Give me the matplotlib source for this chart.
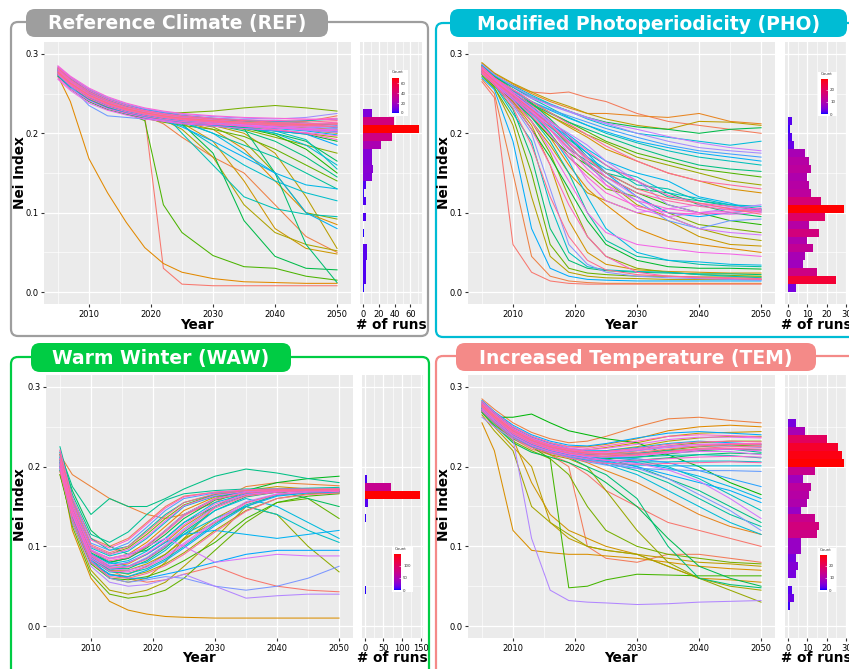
import numpy as np
import matplotlib
matplotlib.use("Agg")
import matplotlib.pyplot as plt
from matplotlib.patches import FancyBboxPatch
from matplotlib.colors import ListedColormap

# years at which each run is sampled
YEARS = [2005, 2007, 2010, 2013, 2016, 2019, 2022, 2025, 2030, 2035, 2040, 2045, 2050]

ref_runs = [
    [.276, .262, .247, .236, .229, .222, .030, .010, .008, .008, .008, .008, .008],
    [.283, .270, .255, .244, .236, .230, .226, .223, .219, .216, .214, .215, .222],
    [.278, .263, .246, .235, .228, .222, .212, .195, .170, .150, .110, .070, .050],
    [.280, .267, .252, .241, .233, .227, .223, .220, .216, .213, .211, .210, .212],
    [.272, .240, .168, .125, .088, .056, .036, .025, .017, .013, .012, .011, .011],
    [.275, .260, .244, .233, .226, .221, .218, .214, .205, .180, .140, .100, .085],
    [.278, .264, .249, .238, .231, .226, .222, .219, .215, .212, .209, .207, .205],
    [.277, .262, .246, .235, .228, .222, .218, .213, .190, .140, .080, .055, .048],
    [.276, .262, .246, .236, .229, .224, .220, .217, .213, .210, .207, .204, .200],
    [.280, .265, .249, .238, .230, .224, .220, .216, .210, .200, .175, .120, .055],
    [.276, .261, .245, .234, .227, .221, .217, .205, .170, .110, .075, .060, .052],
    [.274, .259, .243, .233, .226, .221, .217, .214, .210, .207, .204, .200, .195],
    [.279, .264, .248, .236, .229, .223, .219, .215, .208, .190, .150, .100, .092],
    [.277, .263, .247, .236, .229, .224, .220, .217, .212, .205, .195, .185, .175],
    [.280, .266, .251, .240, .232, .227, .225, .226, .228, .232, .235, .232, .228],
    [.274, .259, .243, .232, .225, .219, .214, .210, .205, .196, .180, .160, .140],
    [.278, .262, .245, .233, .225, .216, .110, .075, .046, .032, .030, .020, .015],
    [.279, .265, .249, .238, .231, .225, .221, .218, .213, .207, .198, .180, .150],
    [.272, .256, .240, .230, .224, .219, .215, .212, .209, .206, .203, .199, .190],
    [.277, .263, .247, .236, .229, .223, .219, .212, .175, .090, .045, .030, .028],
    [.276, .262, .246, .235, .228, .223, .219, .216, .211, .207, .200, .190, .165],
    [.281, .266, .250, .238, .231, .225, .221, .217, .212, .206, .150, .060, .012],
    [.277, .263, .247, .236, .229, .224, .220, .216, .211, .203, .190, .170, .145],
    [.279, .265, .250, .240, .233, .228, .224, .221, .218, .215, .213, .211, .208],
    [.276, .261, .245, .234, .227, .222, .218, .214, .200, .185, .170, .150, .130],
    [.281, .268, .253, .242, .234, .229, .225, .222, .218, .216, .215, .216, .218],
    [.277, .262, .246, .235, .228, .222, .226, .200, .160, .120, .105, .098, .095],
    [.279, .264, .248, .237, .230, .225, .221, .218, .214, .209, .203, .192, .155],
    [.279, .264, .248, .237, .230, .224, .220, .210, .185, .160, .140, .125, .115],
    [.278, .264, .248, .237, .230, .225, .221, .217, .213, .208, .200, .185, .160],
    [.277, .263, .247, .237, .230, .225, .221, .218, .214, .211, .208, .205, .202],
    [.278, .263, .247, .236, .229, .223, .219, .215, .200, .175, .150, .135, .130],
    [.275, .261, .245, .235, .228, .223, .219, .216, .212, .209, .206, .203, .198],
    [.275, .262, .246, .235, .228, .221, .216, .208, .190, .170, .150, .100, .080],
    [.282, .269, .254, .243, .235, .230, .226, .222, .219, .217, .215, .213, .210],
    [.273, .258, .242, .232, .226, .220, .216, .213, .210, .206, .203, .199, .185],
    [.280, .266, .251, .240, .232, .227, .223, .220, .217, .214, .212, .210, .207],
    [.276, .260, .235, .222, .220, .218, .217, .215, .212, .209, .207, .204, .203],
    [.278, .264, .248, .238, .231, .226, .222, .219, .216, .213, .210, .208, .206],
    [.284, .271, .256, .245, .237, .231, .227, .224, .221, .219, .218, .220, .225],
    [.277, .262, .247, .236, .229, .224, .220, .217, .214, .211, .208, .206, .204],
    [.275, .261, .246, .236, .229, .224, .220, .217, .213, .210, .207, .204, .201],
    [.279, .265, .249, .239, .232, .227, .223, .220, .216, .213, .210, .208, .209],
    [.281, .267, .252, .241, .233, .228, .224, .221, .217, .214, .212, .211, .213],
    [.276, .262, .247, .237, .230, .225, .221, .218, .215, .211, .208, .206, .204],
    [.268, .254, .238, .229, .223, .218, .215, .212, .209, .206, .204, .201, .197],
    [.270, .256, .241, .231, .225, .220, .216, .213, .211, .209, .207, .205, .203],
    [.285, .272, .257, .246, .238, .232, .228, .225, .222, .220, .219, .218, .217],
    [.283, .270, .254, .243, .235, .229, .225, .222, .219, .217, .216, .217, .219],
    [.274, .260, .244, .234, .227, .222, .218, .215, .212, .209, .205, .200, .192],
    [.280, .266, .250, .239, .231, .226, .222, .219, .216, .214, .213, .212, .214],
    [.278, .264, .248, .237, .230, .225, .221, .218, .215, .212, .210, .209, .211],
    [.276, .262, .246, .236, .229, .224, .220, .217, .214, .212, .211, .210, .208],
    [.282, .268, .252, .241, .233, .228, .224, .221, .218, .216, .214, .214, .216],
    [.277, .263, .248, .238, .231, .226, .222, .219, .216, .214, .212, .211, .212],
]

pho_runs = [
    [.265, .245, .060, .025, .014, .011, .010, .010, .010, .010, .010, .010, .010],
    [.285, .272, .260, .252, .250, .252, .245, .240, .225, .215, .210, .205, .200],
    [.268, .250, .150, .045, .020, .014, .012, .011, .011, .011, .011, .011, .011],
    [.288, .275, .262, .250, .240, .232, .225, .225, .222, .220, .225, .215, .212],
    [.278, .265, .245, .222, .195, .160, .130, .110, .080, .065, .060, .055, .050],
    [.284, .271, .254, .238, .222, .208, .195, .180, .165, .150, .140, .130, .125],
    [.277, .263, .240, .210, .160, .090, .050, .035, .028, .026, .025, .024, .024],
    [.276, .262, .240, .215, .185, .150, .125, .115, .100, .090, .070, .060, .058],
    [.289, .276, .263, .252, .242, .234, .225, .218, .210, .205, .215, .214, .210],
    [.275, .258, .210, .120, .045, .025, .020, .018, .017, .016, .016, .016, .016],
    [.283, .270, .250, .230, .210, .185, .160, .140, .110, .095, .080, .070, .065],
    [.279, .266, .250, .236, .222, .210, .198, .188, .170, .160, .150, .140, .135],
    [.282, .268, .245, .215, .175, .120, .070, .045, .030, .025, .022, .021, .020],
    [.279, .265, .248, .228, .200, .170, .150, .130, .120, .100, .085, .080, .075],
    [.272, .257, .220, .150, .060, .030, .024, .022, .020, .020, .019, .019, .019],
    [.283, .270, .255, .240, .226, .214, .202, .190, .175, .165, .155, .150, .145],
    [.274, .260, .242, .220, .195, .175, .160, .145, .125, .110, .100, .090, .085],
    [.275, .260, .238, .205, .170, .130, .090, .060, .040, .032, .030, .030, .029],
    [.284, .271, .258, .246, .236, .228, .220, .214, .208, .205, .200, .205, .207],
    [.285, .272, .255, .238, .218, .195, .170, .150, .130, .125, .110, .100, .095],
    [.278, .262, .230, .170, .080, .040, .030, .027, .025, .024, .023, .023, .022],
    [.278, .265, .250, .237, .225, .214, .205, .196, .182, .170, .160, .155, .152],
    [.277, .263, .246, .226, .205, .180, .165, .150, .140, .120, .115, .108, .103],
    [.279, .264, .242, .220, .190, .150, .100, .065, .045, .040, .035, .033, .032],
    [.280, .267, .250, .232, .212, .192, .175, .160, .135, .130, .115, .110, .105],
    [.286, .273, .258, .244, .232, .220, .210, .200, .188, .178, .170, .165, .160],
    [.276, .261, .225, .190, .110, .050, .032, .028, .026, .025, .022, .020, .018],
    [.276, .262, .244, .225, .208, .188, .170, .155, .145, .125, .118, .110, .108],
    [.286, .273, .260, .248, .237, .228, .218, .210, .200, .195, .190, .185, .190],
    [.281, .266, .248, .225, .200, .165, .120, .080, .050, .040, .038, .035, .034],
    [.282, .268, .250, .234, .215, .198, .180, .165, .150, .140, .120, .112, .101],
    [.281, .268, .253, .240, .229, .219, .210, .202, .190, .182, .175, .170, .165],
    [.270, .255, .190, .080, .030, .020, .016, .015, .014, .014, .014, .014, .014],
    [.278, .264, .247, .230, .212, .195, .175, .150, .120, .100, .095, .100, .104],
    [.280, .267, .252, .240, .230, .222, .214, .206, .195, .185, .178, .174, .170],
    [.275, .261, .243, .224, .205, .185, .160, .140, .115, .090, .080, .090, .092],
    [.280, .265, .235, .200, .130, .060, .035, .025, .020, .018, .017, .016, .015],
    [.287, .274, .259, .246, .235, .227, .219, .212, .200, .190, .182, .178, .175],
    [.281, .267, .249, .231, .214, .200, .185, .165, .140, .110, .100, .105, .110],
    [.282, .269, .255, .244, .236, .228, .220, .213, .205, .196, .188, .182, .178],
    [.277, .263, .245, .227, .210, .190, .170, .145, .120, .095, .080, .075, .072],
    [.279, .266, .248, .228, .205, .175, .140, .115, .100, .105, .110, .106, .102],
    [.283, .269, .250, .232, .212, .190, .165, .135, .105, .095, .100, .098, .100],
    [.276, .262, .242, .215, .180, .140, .100, .075, .060, .055, .050, .048, .045],
    [.281, .267, .250, .230, .205, .180, .155, .135, .115, .105, .100, .102, .106],
    [.278, .264, .245, .222, .198, .170, .145, .125, .108, .100, .098, .100, .103],
    [.284, .270, .252, .235, .216, .196, .178, .160, .140, .122, .112, .108, .104],
    [.275, .261, .238, .205, .160, .110, .070, .045, .025, .020, .018, .017, .016],
    [.279, .265, .246, .226, .204, .182, .162, .145, .125, .115, .108, .104, .101],
    [.283, .270, .255, .240, .226, .212, .198, .184, .165, .150, .140, .135, .130],
    [.277, .262, .232, .185, .120, .070, .040, .028, .022, .020, .019, .018, .017],
    [.280, .266, .248, .230, .210, .188, .168, .150, .130, .118, .112, .105, .098],
]

waw_runs = [
    [.205, .150, .090, .070, .060, .055, .058, .065, .075, .060, .050, .045, .043],
    [.220, .160, .110, .100, .110, .130, .150, .163, .168, .170, .170, .170, .170],
    [.215, .190, .175, .160, .150, .140, .135, .140, .155, .175, .180, .178, .176],
    [.210, .150, .095, .085, .090, .105, .125, .145, .162, .168, .170, .170, .170],
    [.200, .120, .060, .031, .020, .015, .012, .011, .010, .010, .010, .010, .010],
    [.205, .145, .090, .075, .078, .090, .105, .125, .150, .164, .168, .169, .169],
    [.190, .140, .085, .060, .055, .060, .080, .110, .150, .170, .175, .172, .170],
    [.200, .140, .085, .070, .070, .078, .090, .108, .135, .155, .165, .168, .168],
    [.200, .130, .070, .045, .040, .045, .055, .075, .110, .150, .165, .168, .170],
    [.195, .135, .080, .065, .062, .068, .078, .092, .120, .145, .160, .166, .167],
    [.210, .150, .090, .070, .065, .075, .090, .110, .130, .150, .140, .100, .068],
    [.215, .155, .100, .090, .098, .115, .135, .152, .165, .169, .170, .171, .171],
    [.195, .125, .065, .040, .035, .038, .045, .060, .095, .130, .155, .160, .135],
    [.190, .130, .078, .060, .058, .062, .070, .082, .105, .135, .155, .163, .166],
    [.205, .145, .090, .080, .085, .100, .120, .140, .160, .170, .180, .185, .188],
    [.208, .148, .092, .080, .085, .098, .115, .135, .158, .167, .169, .170, .170],
    [.215, .170, .120, .100, .090, .095, .110, .130, .150, .165, .170, .160, .150],
    [.202, .142, .087, .072, .072, .082, .098, .118, .145, .162, .168, .170, .171],
    [.218, .175, .140, .160, .150, .150, .160, .172, .188, .197, .192, .185, .180],
    [.225, .165, .115, .105, .118, .140, .158, .166, .170, .172, .172, .172, .172],
    [.212, .160, .110, .095, .100, .120, .140, .155, .165, .170, .172, .173, .174],
    [.198, .138, .083, .068, .066, .072, .084, .100, .128, .152, .164, .168, .169],
    [.200, .140, .085, .070, .075, .085, .100, .115, .135, .150, .140, .120, .105],
    [.212, .152, .098, .088, .094, .110, .130, .150, .163, .168, .170, .171, .171],
    [.208, .150, .095, .080, .075, .080, .095, .115, .145, .160, .150, .130, .110],
    [.206, .146, .091, .078, .082, .094, .110, .130, .155, .166, .169, .170, .170],
    [.205, .140, .085, .075, .080, .090, .105, .115, .120, .115, .110, .115, .120],
    [.196, .136, .082, .064, .062, .070, .082, .098, .126, .150, .163, .167, .168],
    [.200, .135, .080, .065, .060, .060, .065, .070, .080, .090, .095, .095, .095],
    [.218, .158, .104, .095, .104, .124, .145, .160, .167, .170, .171, .171, .171],
    [.202, .140, .082, .060, .055, .058, .062, .060, .050, .045, .050, .060, .075],
    [.204, .144, .089, .074, .075, .086, .102, .122, .150, .165, .169, .170, .170],
    [.198, .130, .075, .055, .050, .052, .058, .065, .050, .035, .038, .040, .040],
    [.200, .140, .086, .072, .070, .076, .088, .104, .132, .156, .166, .169, .170],
    [.210, .150, .095, .085, .090, .100, .110, .100, .080, .085, .090, .088, .088],
    [.210, .150, .096, .084, .088, .102, .120, .140, .160, .168, .170, .171, .171],
    [.214, .154, .100, .090, .096, .112, .132, .151, .164, .169, .171, .171, .172],
    [.206, .146, .090, .076, .079, .091, .107, .127, .153, .165, .169, .170, .171],
    [.199, .139, .084, .069, .068, .074, .086, .102, .130, .154, .165, .168, .169],
    [.221, .161, .108, .098, .108, .128, .148, .162, .168, .171, .172, .172, .172],
    [.203, .143, .088, .073, .074, .084, .100, .120, .148, .163, .168, .170, .170],
    [.209, .149, .094, .082, .086, .100, .118, .138, .159, .167, .170, .170, .171],
    [.194, .134, .080, .062, .060, .066, .076, .090, .118, .144, .160, .165, .167],
    [.216, .156, .102, .092, .100, .118, .138, .155, .166, .170, .171, .171, .172],
]

tem_runs = [
    [.270, .255, .235, .222, .215, .205, .190, .170, .150, .130, .120, .110, .100],
    [.272, .257, .238, .225, .215, .200, .100, .085, .080, .090, .090, .085, .080],
    [.285, .272, .255, .243, .235, .230, .232, .238, .250, .260, .262, .258, .255],
    [.275, .260, .240, .228, .218, .212, .205, .195, .180, .160, .140, .125, .115],
    [.282, .268, .250, .238, .230, .225, .225, .228, .235, .245, .250, .252, .250],
    [.255, .220, .120, .095, .092, .090, .090, .088, .085, .080, .075, .072, .070],
    [.270, .255, .235, .180, .140, .120, .110, .100, .090, .075, .060, .058, .055],
    [.280, .266, .247, .235, .227, .222, .221, .224, .230, .238, .242, .243, .244],
    [.268, .250, .225, .200, .130, .110, .100, .095, .090, .085, .080, .078, .075],
    [.278, .264, .245, .233, .225, .220, .218, .220, .225, .232, .236, .238, .238],
    [.265, .245, .220, .150, .130, .115, .100, .095, .090, .075, .060, .050, .045],
    [.274, .258, .238, .225, .215, .210, .200, .170, .120, .080, .060, .045, .030],
    [.276, .262, .243, .231, .223, .218, .215, .216, .220, .226, .230, .232, .232],
    [.270, .254, .232, .220, .210, .190, .150, .120, .100, .090, .085, .080, .078],
    [.274, .260, .241, .229, .221, .216, .213, .213, .216, .221, .225, .227, .226],
    [.272, .256, .236, .225, .210, .048, .050, .058, .065, .064, .063, .063, .063],
    [.275, .262, .262, .266, .255, .245, .240, .235, .230, .215, .200, .180, .165],
    [.272, .258, .239, .227, .219, .214, .211, .210, .212, .216, .220, .222, .221],
    [.268, .252, .230, .218, .212, .205, .195, .180, .150, .110, .075, .060, .050],
    [.270, .256, .237, .225, .217, .212, .208, .207, .208, .211, .215, .217, .216],
    [.270, .255, .235, .225, .218, .212, .200, .190, .160, .100, .060, .052, .048],
    [.276, .262, .242, .230, .222, .216, .213, .210, .200, .185, .170, .150, .130],
    [.279, .265, .246, .234, .226, .220, .216, .215, .217, .220, .222, .222, .218],
    [.273, .258, .239, .227, .220, .214, .210, .205, .195, .180, .160, .140, .125],
    [.277, .263, .244, .232, .224, .218, .214, .212, .212, .214, .215, .214, .211],
    [.278, .264, .244, .232, .224, .218, .214, .212, .208, .200, .185, .165, .145],
    [.275, .261, .242, .230, .222, .216, .211, .208, .206, .206, .207, .207, .206],
    [.271, .256, .237, .226, .219, .213, .208, .203, .190, .170, .150, .130, .115],
    [.273, .259, .240, .228, .220, .214, .209, .205, .202, .201, .201, .201, .201],
    [.277, .263, .243, .231, .223, .217, .213, .209, .205, .198, .188, .175, .160],
    [.281, .267, .249, .237, .229, .223, .220, .220, .224, .229, .232, .230, .228],
    [.274, .260, .241, .229, .221, .215, .211, .207, .200, .190, .180, .170, .155],
    [.283, .269, .252, .240, .232, .227, .226, .229, .236, .242, .244, .242, .240],
    [.279, .265, .245, .233, .225, .219, .215, .212, .210, .205, .195, .185, .175],
    [.271, .257, .238, .226, .218, .212, .206, .202, .198, .196, .195, .195, .194],
    [.272, .257, .238, .226, .219, .213, .209, .205, .198, .185, .165, .145, .120],
    [.277, .263, .245, .233, .225, .220, .217, .217, .220, .224, .226, .226, .224],
    [.262, .250, .235, .110, .045, .032, .030, .029, .027, .028, .030, .031, .032],
    [.279, .265, .247, .235, .227, .222, .219, .219, .222, .226, .228, .228, .227],
    [.276, .261, .242, .230, .222, .216, .212, .208, .204, .196, .182, .160, .135],
    [.275, .261, .243, .231, .223, .218, .214, .213, .214, .217, .219, .219, .215],
    [.280, .266, .248, .236, .228, .223, .221, .223, .228, .234, .237, .237, .236],
    [.274, .260, .241, .229, .221, .216, .213, .212, .214, .218, .221, .222, .220],
    [.278, .264, .246, .234, .226, .221, .218, .218, .221, .225, .228, .229, .229],
    [.272, .258, .239, .227, .219, .214, .210, .208, .208, .210, .212, .213, .212],
    [.282, .268, .250, .238, .230, .225, .223, .226, .232, .238, .240, .239, .237],
    [.276, .262, .244, .232, .224, .219, .216, .215, .216, .219, .222, .223, .222],
    [.270, .255, .236, .224, .217, .211, .207, .204, .203, .204, .205, .206, .205],
    [.279, .265, .247, .235, .227, .222, .219, .219, .223, .228, .231, .232, .231],
    [.275, .261, .242, .230, .222, .217, .214, .213, .215, .219, .223, .225, .225],
    [.277, .263, .245, .233, .225, .220, .217, .216, .218, .222, .226, .228, .228],
]

# run counts of final Nei index in 0.01-wide bins, starting at 0.00
ref_counts = [1, 4, 4, 4, 5, 5, 0, 1, 0, 4, 0, 4, 2, 4, 12, 13, 12, 12, 23, 37, 71, 39, 11]
pho_counts = [4, 25, 15, 8, 9, 13, 10, 16, 11, 19, 29, 17, 12, 11, 10, 12, 11, 9, 3, 2, 1, 2]
waw_counts = [1, 0, 0, 0, 2, 0, 1, 1, 1, 1, 1, 1, 0, 4, 0, 10, 149, 70, 7]
tem_counts = [0, 0, 1, 3, 2, 0, 4, 5, 4, 7, 7, 15, 16, 14, 7, 10, 11, 12, 8, 14, 29, 28, 26, 20, 9, 4]

ref_hist_ticks = [0, 20, 40, 60]
pho_hist_ticks = [0, 10, 20, 30]
waw_hist_ticks = [0, 50, 100, 150]
tem_hist_ticks = [0, 10, 20, 30]

ref_legend_ticks = [0, 20, 40, 60]
pho_legend_ticks = [0, 10, 20]
waw_legend_ticks = [0, 50, 100]
tem_legend_ticks = [0, 10, 20]

year_ticks = [2010, 2020, 2030, 2040, 2050]
nei_ticks = [0.0, 0.1, 0.2, 0.3]
nei_labels = ["0.0", "0.1", "0.2", "0.3"]

W, H = 849, 669
BIN = 0.01

# colour helpers (ggplot hue palette and blue->red gradient in Lab)
M = np.array([[3.2404542, -1.5371385, -0.4985314],
              [-0.9692660, 1.8760108, 0.0415560],
              [0.0556434, -0.2040259, 1.0572252]])
WHITE = np.array([0.95047, 1.0, 1.08883])


def xyz_to_rgb(xyz):
    rgb = M @ np.asarray(xyz)
    rgb = np.where(rgb > 0.0031308, 1.055 * np.abs(rgb) ** (1 / 2.4) - 0.055, 12.92 * rgb)
    return tuple(np.clip(rgb, 0, 1))


def hue_colors(n, l=65.0, c=100.0):
    un = 4 * WHITE[0] / (WHITE[0] + 15 * WHITE[1] + 3 * WHITE[2])
    vn = 9 * WHITE[1] / (WHITE[0] + 15 * WHITE[1] + 3 * WHITE[2])
    out = []
    for h in np.linspace(15, 375, n + 1)[:-1]:
        u, v = c * np.cos(np.radians(h)), c * np.sin(np.radians(h))
        Y = ((l + 16) / 116) ** 3
        up, vp = u / (13 * l) + un, v / (13 * l) + vn
        X = Y * 9 * up / (4 * vp)
        Z = Y * (12 - 3 * up - 20 * vp) / (4 * vp)
        out.append(xyz_to_rgb([X, Y, Z]))
    return out


def lab_to_rgb(L, a, b):
    fy = (L + 16) / 116
    f = np.array([fy + a / 500, fy, fy - b / 200])
    t = np.where(f > 6 / 29, f ** 3, 3 * (6 / 29) ** 2 * (f - 4 / 29))
    return xyz_to_rgb(WHITE * t)


blue_lab = np.array([32.297, 79.188, -107.860])
red_lab = np.array([53.241, 80.092, 67.203])
COUNT_CMAP = ListedColormap([lab_to_rgb(*(blue_lab + t * (red_lab - blue_lab)))
                             for t in np.linspace(0, 1, 256)])


def px_rect(x0, y0, x1, y1):
    return [x0 / W, 1 - y1 / H, (x1 - x0) / W, (y1 - y0) / H]


def style_axes(ax):
    ax.set_facecolor("#EBEBEB")
    for s in ax.spines.values():
        s.set_visible(False)
    ax.grid(which="major", color="white", lw=0.9)
    ax.grid(which="minor", color="white", lw=0.45)
    ax.set_axisbelow(True)
    ax.tick_params(which="major", length=2, color="#333333", labelsize=6, pad=2,
                   labelcolor="black")
    ax.tick_params(which="minor", length=0)
    ax.set_ylim(-0.015, 0.315)
    ax.set_yticks(nei_ticks)
    ax.set_yticks([0.05, 0.15, 0.25], minor=True)


PANELS = [
    dict(runs=ref_runs, counts=ref_counts, hticks=ref_hist_ticks, lticks=ref_legend_ticks,
         title="Reference Climate (REF)", color="#9E9E9E",
         frame=(11, 22, 428, 336), pill=(26, 9, 328, 37),
         main=(44, 42, 351, 304), hist=(360, 42, 422, 304),
         legend=(389, 70, 408, 116), bar=(392, 78, 399, 113),
         ylab=(20, 173), xlab=(197, 325), rlab=(391, 325)),
    dict(runs=pho_runs, counts=pho_counts, hticks=pho_hist_ticks, lticks=pho_legend_ticks,
         title="Modified Photoperiodicity (PHO)", color="#00BCD4",
         frame=(436, 23, 880, 337), pill=(450, 9, 847, 37),
         main=(468, 42, 775, 304), hist=(785, 42, 847, 304),
         legend=(818, 72, 837, 116), bar=(821, 79, 828, 114),
         ylab=(444, 173), xlab=(621, 325), rlab=(816, 325)),
    dict(runs=waw_runs, counts=waw_counts, hticks=waw_hist_ticks, lticks=waw_legend_ticks,
         title="Warm Winter (WAW)", color="#00CC44",
         frame=(11, 357, 429, 700), pill=(31, 343, 291, 372),
         main=(46, 375, 353, 638), hist=(362, 375, 423, 638),
         legend=(392, 547, 413, 592), bar=(394, 554, 401, 590),
         ylab=(20, 505), xlab=(199, 658), rlab=(392, 658)),
    dict(runs=tem_runs, counts=tem_counts, hticks=tem_hist_ticks, lticks=tem_legend_ticks,
         title="Increased Temperature (TEM)", color="#F48A88",
         frame=(436, 356, 880, 700), pill=(456, 343, 816, 371),
         main=(468, 375, 775, 638), hist=(785, 375, 847, 638),
         legend=(818, 548, 836, 592), bar=(820, 555, 827, 590),
         ylab=(444, 505), xlab=(621, 658), rlab=(816, 658)),
]


def main():
    fig = plt.figure(figsize=(W / 100, H / 100), dpi=100)
    bg = fig.add_axes([0, 0, 1, 1], zorder=0)
    bg.set_xlim(0, W)
    bg.set_ylim(H, 0)
    bg.axis("off")

    for p in PANELS:
        x0, y0, x1, y1 = p["frame"]
        bg.add_patch(FancyBboxPatch((x0, y0), x1 - x0, y1 - y0,
                                    boxstyle="round,pad=0,rounding_size=7",
                                    fill=False, ec=p["color"], lw=1.6))
        x0, y0, x1, y1 = p["pill"]
        bg.add_patch(FancyBboxPatch((x0, y0), x1 - x0, y1 - y0,
                                    boxstyle="round,pad=0,rounding_size=9",
                                    fc=p["color"], ec="none"))
        bg.text((x0 + x1) / 2, (y0 + y1) / 2 + 1, p["title"], color="white",
                fontsize=13.5, fontweight="bold", ha="center", va="center")
        bg.text(*p["ylab"], "Nei Index", fontsize=9.8, fontweight="bold",
                rotation=90, ha="center", va="center")
        bg.text(*p["xlab"], "Year", fontsize=9.8, fontweight="bold",
                ha="center", va="center")
        bg.text(*p["rlab"], "# of runs", fontsize=9.8, fontweight="bold",
                ha="center", va="center")

        # spaghetti of runs
        ax = fig.add_axes(px_rect(*p["main"]), zorder=2)
        style_axes(ax)
        colors = hue_colors(len(p["runs"]))
        for run, col in zip(p["runs"], colors):
            ax.plot(YEARS, run, color=col, lw=0.75)
        ax.set_xlim(2002.75, 2052.25)
        ax.set_xticks(year_ticks)
        ax.set_xticks([2005, 2015, 2025, 2035, 2045], minor=True)
        ax.set_yticklabels(nei_labels)

        # histogram of final values
        hx = fig.add_axes(px_rect(*p["hist"]), zorder=2)
        style_axes(hx)
        counts = np.array(p["counts"])
        vmax = counts.max()
        centers = np.arange(len(counts)) * BIN + BIN / 2
        hx.barh(centers, counts, height=BIN, color=COUNT_CMAP(counts / vmax), lw=0)
        hx.set_xticks(p["hticks"])
        step = p["hticks"][1] - p["hticks"][0]
        hx.set_xticks(np.array(p["hticks"]) + step / 2, minor=True)
        hx.set_xlim(-0.05 * vmax, 1.05 * vmax)
        hx.tick_params(axis="y", length=0, labelleft=False)

        # colourbar legend
        lx = fig.add_axes(px_rect(*p["legend"]), zorder=3)
        lx.set_facecolor("white")
        lx.set_xticks([])
        lx.set_yticks([])
        for s in lx.spines.values():
            s.set_visible(False)
        lx.text(0.12, 0.99, "Count", fontsize=2.8, color="#333333",
                transform=lx.transAxes, va="top", ha="left")
        cx = fig.add_axes(px_rect(*p["bar"]), zorder=4)
        cx.imshow(np.linspace(0, vmax, 128)[:, None], aspect="auto", cmap=COUNT_CMAP,
                  origin="lower", extent=[0, 1, 0, vmax])
        for s in cx.spines.values():
            s.set_visible(False)
        cx.set_xticks([])
        cx.yaxis.tick_right()
        cx.set_yticks(p["lticks"])
        cx.tick_params(axis="y", length=1.2, width=0.4, color="white", direction="in",
                       labelsize=2.8, pad=1.5, labelcolor="#333333")

    fig.savefig("out.png", dpi=100)


if __name__ == "__main__":
    main()
